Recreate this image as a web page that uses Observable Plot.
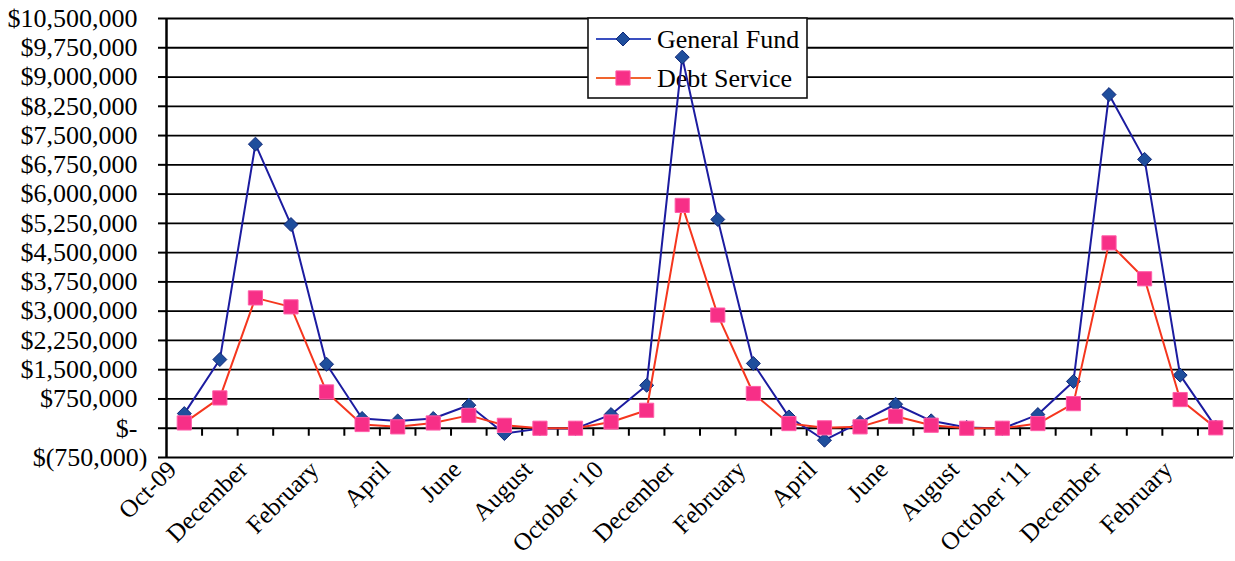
<!DOCTYPE html>
<html>
<head>
<meta charset="utf-8">
<script src="https://cdn.jsdelivr.net/npm/d3@7"></script>
<script src="https://cdn.jsdelivr.net/npm/@observablehq/plot@0.6"></script>
<style>
  html, body { margin: 0; padding: 0; background: #fff; }
  #chart { width: 1235px; height: 561px; }
</style>
</head>
<body>
<div id="chart"></div>
<script>
// ---- Data ----
const months = ["Oct-09","November","December","January","February","March","April","May","June","July","August","September",
  "October '10","November","December","January","February","March","April","May","June","July","August","September",
  "October '11","November","December","January","February","March"];

const generalFund = [375000, 1760000, 7280000, 5220000, 1640000, 250000, 187000, 250000, 590000, -135000, -10000, -10000,
  350000, 1100000, 9510000, 5350000, 1660000, 290000, -307000, 150000, 615000, 190000, 20000, -10000,
  350000, 1200000, 8550000, 6890000, 1360000, 30000];

const debtService = [136000, 777000, 3340000, 3110000, 930000, 95000, 35000, 135000, 330000, 75000, 0, 0,
  160000, 460000, 5710000, 2900000, 890000, 120000, 10000, 35000, 307000, 77000, 0, 0,
  120000, 630000, 4750000, 3830000, 735000, 10000];

const seriesNames = ["General Fund", "Debt Service"];
const yTicks = [-750000, 0, 750000, 1500000, 2250000, 3000000, 3750000, 4500000, 5250000, 6000000, 6750000,
  7500000, 8250000, 9000000, 9750000, 10500000];

// ---- Styles ----
const lineColors = ["#1c1ca0", "#f5361e"];
const legendLineColors = ["#3a4fc0", "#f0642e"];
const markerFill = ["#1f4e9c", "#f72f87"];
const markerStroke = ["#10287a", "#ff5ca8"];
const symbols = ["diamond2", "square"];
const radii = [6.3, 8];

const idx = months.map((_, i) => i);
const rows = [];
[generalFund, debtService].forEach((vals, s) => vals.forEach((v, i) => rows.push({series: seriesNames[s], s, i, v})));
const boundaries = idx.slice(0, -1).map(i => i + 0.5);
const labelIdx = idx.filter(i => i % 2 === 0);

const fmt = v => v === 0 ? "$-" : v < 0 ? "$(" + d3.format(",")(-v) + ")" : "$" + d3.format(",")(v);

function legend(index, scales, values, dimensions) {
  const g = d3.create("svg:g");
  const x0 = 588, y0 = 18, w = 219, h = 80;
  g.append("rect").attr("x", x0).attr("y", y0).attr("width", w).attr("height", h)
    .attr("fill", "#fff").attr("stroke", "#111").attr("stroke-width", 1.6);
  seriesNames.forEach((name, s) => {
    const cy = y0 + 21 + s * 39;
    g.append("line").attr("x1", 596).attr("x2", 651).attr("y1", cy).attr("y2", cy)
      .attr("stroke", legendLineColors[s]).attr("stroke-width", 2);
    const sym = s === 0 ? d3.symbolDiamond2 : d3.symbolSquare;
    g.append("path").attr("d", d3.symbol(sym, Math.PI * radii[s] * radii[s])())
      .attr("transform", `translate(623,${cy})`)
      .attr("fill", markerFill[s]).attr("stroke", markerStroke[s]).attr("stroke-width", 1);
    g.append("text").attr("x", 657).attr("y", cy).attr("dy", "0.35em")
      .attr("text-anchor", "start")
      .attr("font-size", 26).attr("fill", "#000").text(name);
  });
  return g.node();
}

const seriesMarks = [];
seriesNames.forEach((name, s) => {
  const data = rows.filter(d => d.s === s);
  seriesMarks.push(Plot.line(data, {x: "i", y: "v", stroke: lineColors[s], strokeWidth: 2}));
  seriesMarks.push(Plot.dot(data, {x: "i", y: "v", symbol: symbols[s], r: radii[s], fill: markerFill[s], stroke: markerStroke[s], strokeWidth: 1}));
});

const chart = Plot.plot({
  width: 1235,
  height: 561,
  marginTop: 18,
  marginRight: 2,
  marginBottom: 104,
  marginLeft: 166,
  style: {fontFamily: "'Liberation Serif', 'Times New Roman', serif", fontSize: "26px", color: "#000", background: "#fff"},
  x: {type: "linear", domain: [-0.5, months.length - 0.5], label: null},
  y: {domain: [yTicks[0], yTicks[yTicks.length - 1]], label: null},
  marks: [
    Plot.ruleY(yTicks, {stroke: "#000", strokeWidth: 1.8}),
    Plot.ruleX([months.length - 0.5], {stroke: "#888", strokeWidth: 1}),
    Plot.ruleX([-0.5], {stroke: "#000", strokeWidth: 2.5}),
    Plot.ruleX(boundaries, {x: d => d, y1: 0, y2: 0, insetBottom: -8, stroke: "#000", strokeWidth: 2}),
    Plot.axisY(yTicks.filter(v => v >= 0), {label: null, tickSize: 8, tickPadding: 21, tickFormat: fmt, fontSize: 26, strokeWidth: 2, stroke: "#000"}),
    Plot.axisY(yTicks.filter(v => v < 0), {label: null, tickSize: 8, tickPadding: 11, tickFormat: fmt, fontSize: 26, strokeWidth: 2, stroke: "#000"}),
    Plot.axisX(labelIdx, {label: null, tickSize: 0, tickPadding: 8, tickRotate: -45, dx: -12, tickFormat: i => months[i], fontSize: 25}),
    legend,
    ...seriesMarks
  ]
});
document.getElementById("chart").appendChild(chart);
</script>
</body>
</html>
